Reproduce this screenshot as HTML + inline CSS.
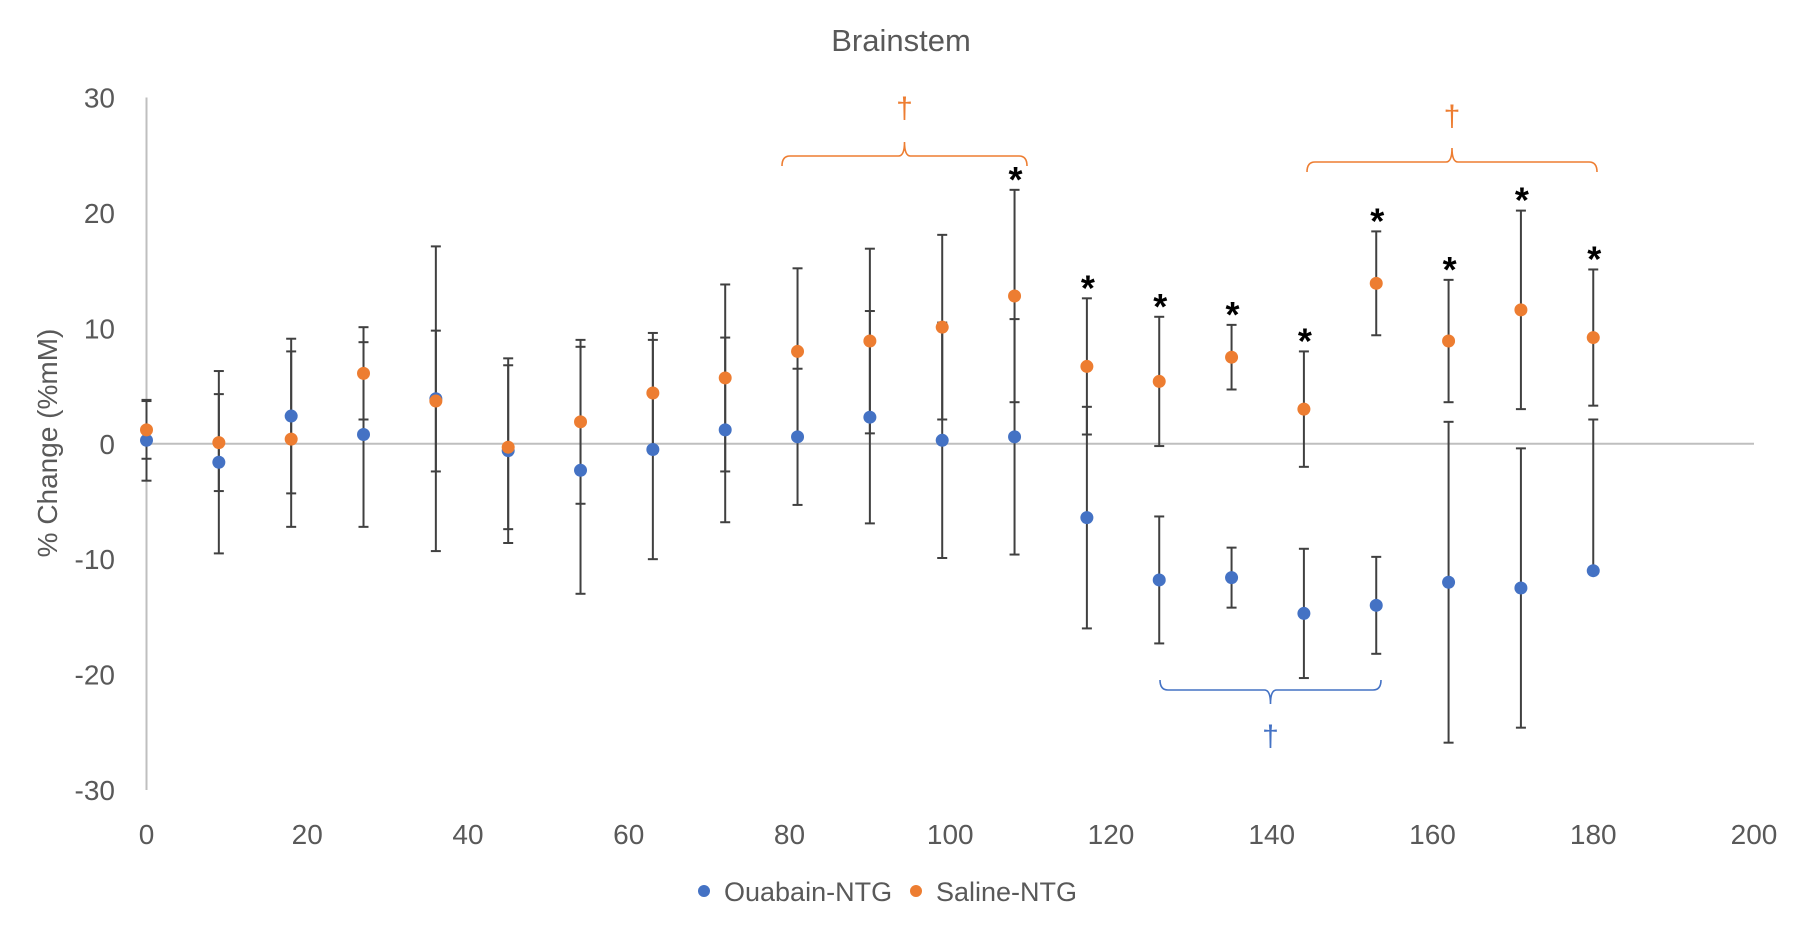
<!DOCTYPE html>
<html><head><meta charset="utf-8"><style>
html,body{margin:0;padding:0;background:#fff;}
svg{display:block;font-family:"Liberation Sans",sans-serif;}
</style></head><body>
<svg id="chart" width="1804" height="930" viewBox="0 0 1804 930"></svg>
<script>
const xValues=[0,9,18,27,36,45,54,63,72,81,90,99,108,117,126,135,144,153,162,171,180];
const ouabain=[0.3,-1.6,2.4,0.8,3.9,-0.6,-2.3,-0.5,1.2,0.6,2.3,0.3,0.6,-6.4,-11.8,-11.6,-14.7,-14.0,-12.0,-12.5,-11.0];
const ouabainErrPlus=[3.5,7.9,6.7,8.0,13.2,8.0,10.7,9.5,8.0,5.9,9.2,10.2,10.2,9.6,5.5,2.6,5.6,4.2,13.9,12.1,13.1];
const ouabainErrMinus=[3.5,7.9,6.7,8.0,13.2,8.0,10.7,9.5,8.0,5.9,9.2,10.2,10.2,9.6,5.5,2.6,5.6,4.2,13.9,12.1,0];
const saline=[1.2,0.1,0.4,6.1,3.7,-0.3,1.9,4.4,5.7,8.0,8.9,10.1,12.8,6.7,5.4,7.5,3.0,13.9,8.9,11.6,9.2];
const salineErr=[2.5,4.2,7.6,4.0,6.1,7.1,7.1,5.2,8.1,7.2,8.0,8.0,9.2,5.9,5.6,2.8,5.0,4.5,5.3,8.6,5.9];
const starXs=[108,117,126,135,144,153,162,171,180];
const xTicks=[0,20,40,60,80,100,120,140,160,180,200];
const yTicks=[30,20,10,0,-10,-20,-30];

const NS="http://www.w3.org/2000/svg";
const svg=document.getElementById('chart');
const X0=146.5,X1=1754,Y30=97.5,Ym30=790;
const sx=v=>X0+(v-0)*(X1-X0)/200;
const sy=v=>Y30+(30-v)*(Ym30-Y30)/60;
function mk(tag,attrs,parent){const e=document.createElementNS(NS,tag);for(const k in attrs)e.setAttribute(k,attrs[k]);(parent||svg).appendChild(e);return e;}

const title=mk('text',{x:901,y:51,'text-anchor':'middle','font-size':31,fill:'#595959'});
title.textContent='Brainstem';



const yAxis=mk('line',{x1:sx(0),x2:sx(0),y1:sy(30),y2:sy(-30),stroke:'#bfbfbf','stroke-width':2});


const zero=mk('line',{x1:sx(0),x2:sx(200),y1:sy(0),y2:sy(0),stroke:'#bfbfbf','stroke-width':2});



yTicks.forEach(t=>{const e=mk('text',{x:115,y:sy(t)+10,'text-anchor':'end','font-size':28,fill:'#595959'});e.textContent=t;

});
xTicks.forEach(t=>{const e=mk('text',{x:sx(t),y:844,'text-anchor':'middle','font-size':28,fill:'#595959'});e.textContent=t;

});

const yl=mk('text',{x:0,y:0,'text-anchor':'middle','font-size':28,fill:'#595959',transform:'translate(57,443) rotate(-90)'});
yl.textContent='% Change (%mM)';



function errBar(x,lo,hi,hasLo){
  const g=mk('g',{stroke:'#404040','stroke-width':2});
  
  
  mk('line',{x1:sx(x),x2:sx(x),y1:sy(hi),y2:sy(lo)},g);
  mk('line',{x1:sx(x)-5,x2:sx(x)+5,y1:sy(hi),y2:sy(hi)},g);
  if(hasLo) mk('line',{x1:sx(x)-5,x2:sx(x)+5,y1:sy(lo),y2:sy(lo)},g);
}
xValues.forEach((x,i)=>{
  errBar(x,ouabain[i]-ouabainErrMinus[i],ouabain[i]+ouabainErrPlus[i],ouabainErrMinus[i]>0);
  errBar(x,saline[i]-salineErr[i],saline[i]+salineErr[i],true);
});
xValues.forEach((x,i)=>{
  const c=mk('circle',{cx:sx(x),cy:sy(ouabain[i]),r:6.5,fill:'#4472C4'});
  
  
});
xValues.forEach((x,i)=>{
  const c=mk('circle',{cx:sx(x),cy:sy(saline[i]),r:6.5,fill:'#ED7D31'});
  
  
});
starXs.forEach(x=>{
  const i=xValues.indexOf(x);
  const top=saline[i]+salineErr[i];
  const s=mk('text',{x:sx(x)+1,y:sy(top)+2,'text-anchor':'middle','font-size':36,'font-weight':'bold',fill:'#000'});
  s.textContent='*';
  
  
});

function bracket(x1,x2,y,dir,color,daggerY,name){
  const xm=(x1+x2)/2, h=10*dir, p=14*dir;
  const p1=mk('path',{d:`M${x1} ${y+h} Q${x1} ${y} ${x1+8} ${y} L${xm-6} ${y} Q${xm} ${y} ${xm} ${y-p} Q${xm} ${y} ${xm+6} ${y} L${x2-8} ${y} Q${x2} ${y} ${x2} ${y+h}`,fill:'none',stroke:color,'stroke-width':1.6});
  
  
  const d=mk('text',{x:xm,y:daggerY,'text-anchor':'middle','font-size':30,fill:color});
  d.textContent='†';
  
  
}
bracket(782,1027,156,1,'#ED7D31',118,'saline-bracket-1');
bracket(1307,1597,162,1,'#ED7D31',126,'saline-bracket-2');
bracket(1160,1381,690,-1,'#4472C4',746,'ouabain-bracket');

const lg=mk('g',{});


mk('circle',{cx:704,cy:891,r:6,fill:'#4472C4'},lg);
const t1=mk('text',{x:724,y:901,'font-size':27,fill:'#595959'},lg);t1.textContent='Ouabain-NTG';


mk('circle',{cx:916,cy:891,r:6,fill:'#ED7D31'},lg);
const t2=mk('text',{x:936,y:901,'font-size':27,fill:'#595959'},lg);t2.textContent='Saline-NTG';


</script>
</body></html>
